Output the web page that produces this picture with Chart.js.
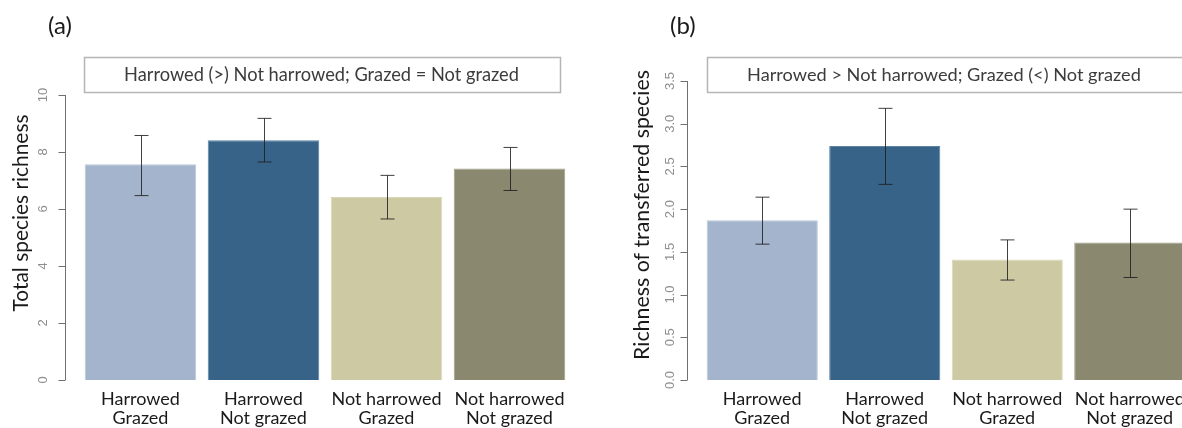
<!DOCTYPE html>
<html><head><meta charset="utf-8">
<script src="https://cdn.jsdelivr.net/npm/chart.js@4.4.1/dist/chart.umd.min.js"></script>
<style>
html,body{margin:0;padding:0;background:#fff;overflow:hidden;width:1182px;height:428px}
#ca{position:absolute;left:0;top:0}
#cb{position:absolute;left:591px;top:0}
</style></head><body>
<canvas id="ca" width="591" height="428"></canvas>
<canvas id="cb" width="610" height="428"></canvas>
<script>
// ---- data ----
const categories = [["Harrowed","Grazed"],["Harrowed","Not grazed"],["Not harrowed","Grazed"],["Not harrowed","Not grazed"]];
const totalRichness = [7.57, 8.41, 6.42, 7.42];
const totalLower    = [6.47, 7.65, 5.65, 6.65];
const totalUpper    = [8.58, 9.18, 7.18, 8.16];
const transferredRichness = [1.87, 2.74, 1.41, 1.61];
const transferredLower    = [1.59, 2.29, 1.17, 1.20];
const transferredUpper    = [2.14, 3.18, 1.64, 2.00];
const totalTicks = [0, 2, 4, 6, 8, 10];
const totalTickLabels = ["0", "2", "4", "6", "8", "10"];
const transferredTicks = [0, 0.5, 1, 1.5, 2, 2.5, 3, 3.5];
const transferredTickLabels = ["0.0", "0.5", "1.0", "1.5", "2.0", "2.5", "3.0", "3.5"];
const barColors = ["#a3b4cc", "#376389", "#cdc9a3", "#8a886e"];
const barEdges  = ["#b9c6d8", "#5f82a3", "#dad7b9", "#a19f88"];
const panelLabels = ["(a)", "(b)"];
const boxTexts = ["Harrowed (>) Not harrowed; Grazed = Not grazed", "Harrowed > Not harrowed; Grazed (<) Not grazed"];
const yTitles = ["Total species richness", "Richness of transferred species"];

const FONT = "Lato, 'Open Sans', sans-serif";

const _mctx = document.createElement('canvas').getContext('2d');
function fitSize(text, target) {
  _mctx.font = "100px " + FONT;
  return 100 * target / _mctx.measureText(text).width;
}

function makePanel(canvasId, cfg) {
  const titleSize = fitSize(cfg.yTitle, cfg.titleLen);
  const boxSize = fitSize(cfg.boxText, cfg.boxTextLen);
  const deco = {
    id: 'deco' + canvasId,
    afterDatasetsDraw(chart) {
      const ctx = chart.ctx, x = chart.scales.x, y = chart.scales.y;
      ctx.save();
      ctx.strokeStyle = 'rgba(30,30,30,0.85)';
      ctx.lineWidth = 1;
      cfg.values.forEach((v, i) => {
        const px = Math.round(x.getPixelForValue(i)) + 0.5;
        const yl = y.getPixelForValue(cfg.lower[i]);
        const yu = y.getPixelForValue(cfg.upper[i]);
        ctx.beginPath();
        ctx.moveTo(px, yl); ctx.lineTo(px, yu);
        ctx.moveTo(px - 7, yu); ctx.lineTo(px + 7, yu);
        ctx.moveTo(px - 7, yl); ctx.lineTo(px + 7, yl);
        ctx.stroke();
      });
      ctx.restore();
    },
    afterDraw(chart) {
      const ctx = chart.ctx, y = chart.scales.y;
      ctx.save();
      // y axis spine and ticks
      ctx.strokeStyle = '#707070';
      ctx.lineWidth = 1;
      const sx = cfg.spineX + 0.5;
      const y0 = y.getPixelForValue(cfg.ticks[0]);
      const y1 = y.getPixelForValue(cfg.ticks[cfg.ticks.length - 1]);
      ctx.beginPath();
      ctx.moveTo(sx, y0); ctx.lineTo(sx, y1);
      cfg.ticks.forEach(t => {
        const py = Math.round(y.getPixelForValue(t)) + 0.5;
        ctx.moveTo(sx, py); ctx.lineTo(sx - 7, py);
      });
      ctx.stroke();
      // rotated tick labels
      ctx.fillStyle = '#8e8e8e';
      ctx.font = "13px 'Liberation Sans', Arial, sans-serif";
      ctx.textAlign = 'center';
      ctx.textBaseline = 'middle';
      cfg.ticks.forEach((t, i) => {
        const py = y.getPixelForValue(t);
        ctx.save();
        ctx.translate(cfg.tickLabelX, py);
        ctx.rotate(-Math.PI / 2);
        ctx.fillText(cfg.tickLabels[i], 0, 0);
        ctx.restore();
      });
      // y axis title
      ctx.fillStyle = '#1a1a1a';
      ctx.font = titleSize.toFixed(2) + "px " + FONT;
      ctx.save();
      ctx.translate(cfg.titleX, cfg.titleY);
      ctx.rotate(-Math.PI / 2);
      ctx.fillText(cfg.yTitle, 0, 0);
      ctx.restore();
      // panel label
      ctx.font = "24px " + FONT;
      ctx.textAlign = 'left';
      ctx.fillText(cfg.panelLabel, cfg.panelX, 26);
      // test box
      ctx.strokeStyle = '#b5b5b5';
      ctx.lineWidth = 1.5;
      ctx.strokeRect(cfg.boxL, 57.5, cfg.boxR - cfg.boxL, 35);
      ctx.fillStyle = '#3c3c3c';
      ctx.font = boxSize.toFixed(2) + "px " + FONT;
      ctx.textAlign = 'center';
      ctx.fillText(cfg.boxText, cfg.boxTextX, 75.5);
      ctx.restore();
    }
  };

  return new Chart(document.getElementById(canvasId), {
    type: 'bar',
    data: {
      labels: categories,
      datasets: [{
        data: cfg.values,
        backgroundColor: barColors,
        borderColor: barEdges,
        borderWidth: 1,
        categoryPercentage: 1.0,
        barPercentage: 0.907
      }]
    },
    options: {
      responsive: false,
      animation: false,
      devicePixelRatio: 1,
      layout: { padding: { left: 0, right: cfg.padRight, top: cfg.top, bottom: 0 } },
      plugins: { legend: { display: false }, tooltip: { enabled: false } },
      scales: {
        x: {
          offset: true,
          grid: { display: false, drawTicks: false },
          border: { display: false },
          ticks: {
            color: '#1a1a1a',
            padding: 10,
            maxRotation: 0,
            minRotation: 0,
            font: { family: FONT, size: 18, lineHeight: 1.06 }
          },
          afterFit(s) { s.height = 48; }
        },
        y: {
          min: 0,
          max: cfg.max,
          grid: { display: false, drawTicks: false },
          border: { display: false },
          ticks: { display: false },
          title: { display: false, text: cfg.yTitle },
          afterFit(s) { s.width = cfg.axisWidth; }
        }
      }
    },
    plugins: [deco]
  });
}

makePanel('ca', {
  values: totalRichness, lower: totalLower, upper: totalUpper,
  ticks: totalTicks, tickLabels: totalTickLabels, max: 10,
  yTitle: yTitles[0], panelLabel: panelLabels[0], boxText: boxTexts[0],
  top: 95, axisWidth: 79, padRight: 20, spineX: 65, tickLabelX: 43,
  titleX: 21, titleY: 213, titleLen: 197,
  panelX: 48, boxL: 84.5, boxR: 560.5, boxTextX: 321.5, boxTextLen: 395
});

makePanel('cb', {
  values: transferredRichness, lower: transferredLower, upper: transferredUpper,
  ticks: transferredTicks, tickLabels: transferredTickLabels, max: 3.5,
  yTitle: yTitles[1], panelLabel: panelLabels[1], boxText: boxTexts[1],
  top: 81, axisWidth: 110, padRight: 10, spineX: 96, tickLabelX: 79,
  titleX: 51, titleY: 215, titleLen: 290,
  panelX: 79, boxL: 116.5, boxR: 600, boxTextX: 353, boxTextLen: 394
});
</script>
</body></html>
